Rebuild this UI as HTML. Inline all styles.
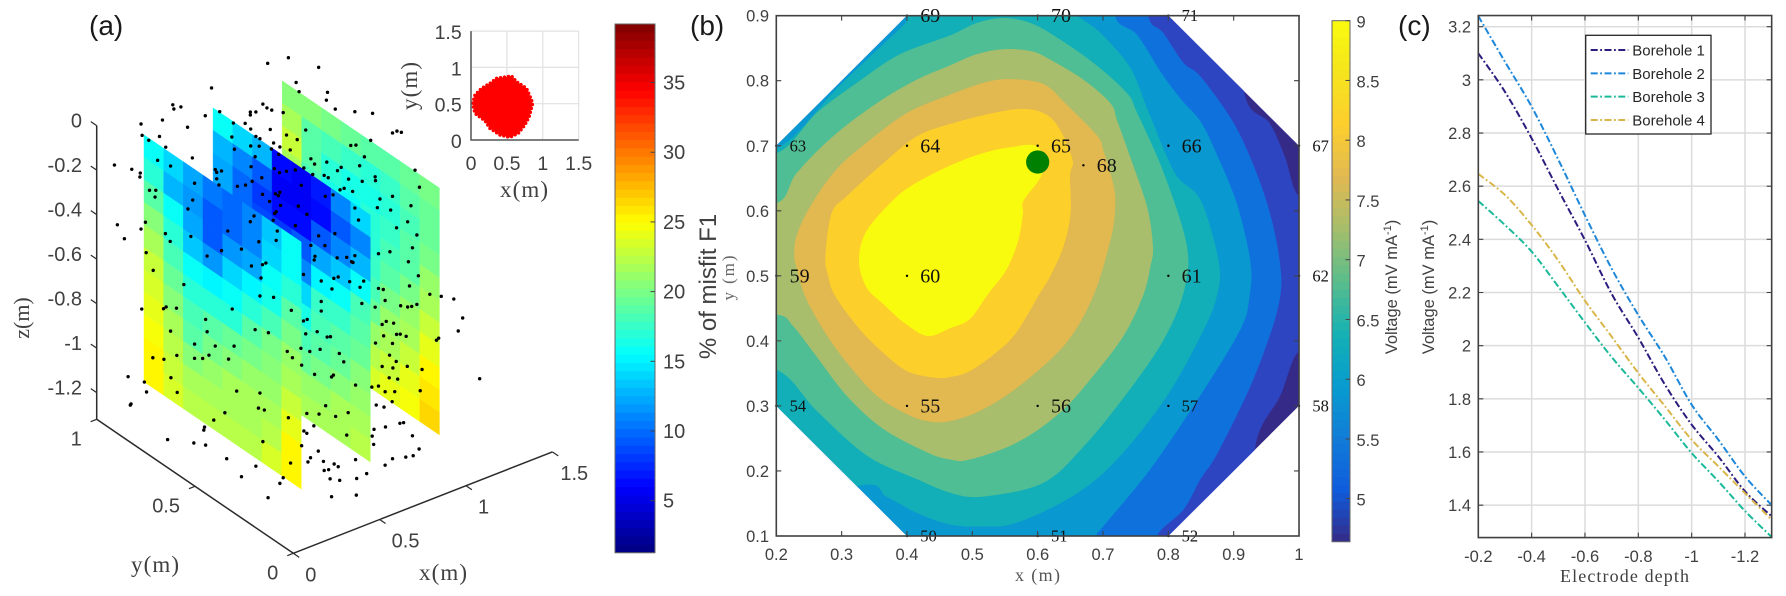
<!DOCTYPE html>
<html lang="en">
<head>
<meta charset="utf-8">
<title>Misfit slices, voltage contour and borehole voltage curves</title>
<style>
  html, body { margin: 0; padding: 0; background: #fff; }
  body { width: 1786px; height: 596px; overflow: hidden; }
  svg { display: block; filter: blur(0.35px); }
  text { font-family: "Liberation Sans", sans-serif; fill: #404040; }
  .serif { font-family: "Liberation Serif", serif; }
</style>
</head>
<body>
<svg id="fig" xmlns="http://www.w3.org/2000/svg" width="1786" height="596" viewBox="0 0 1786 596">
  <rect x="0" y="0" width="1786" height="596" fill="#fff"/>
  <g id="panelA"></g>
  <g id="inset"></g>
  <g id="cbarA"></g>
  <g id="panelB"></g>
  <g id="cbarB"></g>
  <g id="panelC"></g>

  <text x="89" y="35" font-size="28" style="fill:#1a1a1a">(a)</text>
  <text x="690" y="35" font-size="28" style="fill:#1a1a1a">(b)</text>
  <text x="1398" y="35" font-size="28" style="fill:#1a1a1a">(c)</text>

  <text class="serif" transform="translate(29,318) rotate(-90)" text-anchor="middle" font-size="22">z(m)</text>
  <text class="serif" x="155" y="572" text-anchor="middle" font-size="23" textLength="48">y(m)</text>
  <text class="serif" x="443" y="580" text-anchor="middle" font-size="23" textLength="48">x(m)</text>
  <text class="serif" x="524" y="197" text-anchor="middle" font-size="23" textLength="48">x(m)</text>
  <text class="serif" transform="translate(417,86) rotate(-90)" text-anchor="middle" font-size="23" textLength="48">y(m)</text>
  <text transform="translate(716,286.5) rotate(-90)" text-anchor="middle" font-size="24">% of misfit F1</text>
  <text class="serif" transform="translate(734,278) rotate(-90)" text-anchor="middle" font-size="17" textLength="45" style="fill:#666">y (m)</text>
  <text class="serif" x="1037.5" y="581" text-anchor="middle" font-size="18" textLength="45" style="fill:#555">x (m)</text>
  <text transform="translate(1397,287) rotate(-90)" text-anchor="middle" font-size="16.5">Voltage (mV mA<tspan baseline-shift="super" font-size="11">-1</tspan>)</text>
  <text transform="translate(1434,287) rotate(-90)" text-anchor="middle" font-size="16.5">Voltage (mV mA<tspan baseline-shift="super" font-size="11">-1</tspan>)</text>
  <text class="serif" x="1624.5" y="582" text-anchor="middle" font-size="18" textLength="129">Electrode depth</text>
</svg>
<script>
/* ---------- Panel (a): slice values, % misfit, one array per column, top row first ---------- */
const slice1Values = [
  [15.5,17,19,20.5,22,23,23.5,24,24.5,25,25.5],
  [14,13,15.5,17,18,19.5,20.5,21.5,22.5,23,23.5],
  [12,11.5,12,13.5,15.5,17,18,19,20.5,21.5,22.5],
  [10.5,9.5,9.5,11.5,15,17,18.5,20,21,22,22.5],
  [10,10,11.5,14,15.5,17,19.5,20.5,21.5,22,22.5],
  [11,11,12,15,17,18.5,20,21,21.5,22,22.5],
  [13.5,14,15.5,16.5,18,20,20.5,21,22,22.5,23.5],
  [15.5,16,17,18.5,20,21,22,23,24,25,25.5]
];
const slice2Values = [
  [15.5,13,12,12,13,15,17,18.5,20,21,22],
  [14,11,10,10,12,14,16,18,19.5,21,22],
  [13,9,8,8.5,10,13,15.5,17.5,19,20.5,21.5],
  [6.5,6,6.5,8,10.5,13,15.5,17.5,19,20.5,21.5],
  [6,5.5,6.5,9,11,14,16.5,18,19.5,21,22],
  [7,6.5,9.5,12,15,17.5,18,19,20,21,21.5],
  [11,9,11,13.5,15.5,17.5,19,19.5,20.5,21.5,22],
  [14,11,13,15.5,18,19,19.5,20.5,21,21.5,22.5]
];
const slice3Values = [
  [20.5,22,23,22,21,20,19,19,20,21,22],
  [20.5,18.5,18.5,18,17.5,17,17,18,19.5,21,22],
  [20,18,17,16.5,16,16,16.5,18,19.5,21,22.5],
  [19.5,17.5,16.5,16,16,16,16.5,18,20,21.5,23],
  [18.5,17,16.5,17,17,17.5,18,19.5,21,22.5,23.5],
  [19,17.5,17,17.5,18,19,20,21,22,23,24],
  [19.5,18.5,18,18.5,19,20,21,22,23,24,24.5],
  [20,19.5,19.5,20,21,22,23,24,25,26,26.5]
];
const sliceX = [0.16, 0.56, 0.96];
const sliceYStart = [0.9];
const sliceCellY = [0.1];
const sliceZRange = [-0.03, -1.14];

/* Scatter read from a 2D projection: depth is not recoverable, so points sit on the x + y = 1 view plane. */
const scatterX = [.519,.463,.601,.540,.311,.548,.625,.622,.206,.209,.228,.450,.461,.474,.646,.699,.747,.505,.416,.416,.431,.333,.294,.120,.178,.370,.402,.246,.417,.470,.566,.801,.813,.825,.123,.170,.514,.431,.442,.366,.543,.742,.141,.479,.688,.702,.417,.440,.496,.473,.187,.373,.524,.493,.725,.429,.259,.580,.623,.165,.590,.048,.712,.200,.418,.662,.561,.481,.095,.321,.338,.325,.118,.495,.514,.538,.862,.652,.616,.627,.585,.447,.117,.754,.682,.325,.755,.421,.719,.265,.554,.381,.403,.331,.874,.670,.659,.143,.160,.693,.496,.484,.449,.619,.640,.801,.158,.492,.767,.260,.468,.247,.498,.546,.851,.699,.760,.796,.486,.482,.569,.426,.709,.478,.132,.416,.842,.056,.120,.538,.812,.355,.489,.867,.601,.075,.645,.186,.199,.486,.439,.255,.855,.618,.580,.392,.794,.338,.134,.763,.299,.651,.677,.699,.591,.589,.844,.690,.694,.458,.449,.419,.153,.560,.871,.654,.642,.445,.723,.608,.685,.847,.236,.713,.763,.637,.776,
.902,.933,.442,.479,.967,.781,.608,.823,.842,.853,.867,.718,.754,.216,.188,.181,.122,.367,.527,.608,.991,.295,.570,.560,.784,.773,.804,.429,.200,.299,.465,.566,.597,.979,.822,.812,.777,.838,.624,.633,.926,.920,.755,.801,.265,.321,.372,.553,.605,.577,.516,.657,.793,.304,.217,.152,.265,.287,.182,.357,.530,.811,.669,.555,.773,.841,.802,.881,.590,.641,.636,.201,.792,.815,.085,1.037,.701,.745,.763,.876,.781,.807,.379,.442,.135,.218,.800,.757,.778,.620,.438,.454,.347,.317,.569,.602,.681,.647,.519,.751,.782,.821,.831,.292,.290,.588,.561,.569,.677,.746,.855,.192,.263,.295,.450,.555,.750,.600,.873,.801,.837,.857,.352,.579,.572,.701,.614,.525,.781,.643,.654,.616,.628,.731,.431,.632,.658,.704,.505,.392,.496,.464,.636,.703,.091,.093,.129];
const scatterZ = [.460,.418,.441,.355,.262,.316,.336,.300,.155,.137,.152,.231,.217,.211,.267,.271,.278,.209,.185,.172,.190,.162,.132,.043,.078,.122,.130,.066,.109,.123,.149,.206,.218,.216,-.007,.002,.111,.080,.073,.058,.099,.155,-.024,.065,.116,.122,.033,.039,.052,.036,-.041,.005,.047,.018,.076,-.012,-.068,.024,.022,-.107,.003,-.163,.032,-.122,-.060,.010,-.023,-.050,-.168,-.102,-.103,-.113,-.178,-.064,-.052,-.039,.057,-.008,-.040,-.047,-.045,-.101,-.196,-.005,-.037,-.142,-.022,-.125,-.036,-.180,-.103,-.159,-.147,-.168,-.016,-.082,-.092,-.248,-.243,-.089,-.152,-.162,-.175,-.133,-.120,-.079,-.274,-.168,-.101,-.257,-.201,-.301,-.210,-.199,-.106,-.162,-.142,-.142,-.242,-.251,-.229,-.279,-.213,-.283,-.395,-.308,-.181,-.429,-.429,-.289,-.217,-.368,-.328,-.233,-.316,-.486,-.293,-.430,-.461,-.371,-.391,-.422,-.294,-.355,-.365,-.438,-.330,-.461,-.531,-.348,-.497,-.400,-.390,-.376,-.411,-.428,-.360,-.406,-.408,-.481,-.491,-.506,-.605,-.502,-.415,-.485,-.495,-.552,-.483,-.517,-.497,-.468,-.644,-.514,-.504,-.544,-.505,
-.489,-.489,-.634,-.629,-.491,-.553,-.609,-.564,-.564,-.558,-.545,-.585,-.591,-.756,-.759,-.769,-.788,-.715,-.673,-.652,-.569,-.783,-.701,-.711,-.646,-.663,-.648,-.789,-.864,-.837,-.792,-.767,-.748,-.631,-.692,-.696,-.713,-.697,-.764,-.760,-.679,-.690,-.752,-.740,-.903,-.895,-.880,-.836,-.825,-.843,-.861,-.828,-.795,-.941,-.968,-.998,-.967,-.961,-.996,-.943,-.885,-.818,-.862,-.911,-.852,-.831,-.850,-.833,-.942,-.930,-.940,-1.073,-.897,-.896,-1.103,-.828,-.957,-.953,-.943,-.930,-.963,-.955,-1.080,-1.070,-1.157,-1.134,-1.002,-1.030,-1.033,-1.074,-1.139,-1.143,-1.187,-1.229,-1.124,-1.117,-1.087,-1.114,-1.158,-1.141,-1.121,-1.093,-1.087,-1.268,-1.282,-1.174,-1.205,-1.213,-1.189,-1.173,-1.139,-1.354,-1.348,-1.348,-1.286,-1.273,-1.209,-1.284,-1.193,-1.258,-1.240,-1.228,-1.392,-1.320,-1.341,-1.292,-1.326,-1.360,-1.293,-1.329,-1.338,-1.366,-1.359,-1.346,-1.402,-1.399,-1.398,-1.376,-1.432,-1.461,-1.460,-1.534,-1.478,-1.451,-1.229,-1.223,-1.114];

const zTicks = [0,-0.2,-0.4,-0.6,-0.8,-1,-1.2];
const zTickLabels = ['0','-0.2','-0.4','-0.6','-0.8','-1','-1.2'];
const xTicks3d = [0,0.5,1,1.5];
const xTickLabels3d = ['0','0.5','1','1.5'];
const yTicks3d = [0,0.5,1];
const yTickLabels3d = ['0','0.5','1'];

/* Inset: outline of the red source-location cloud (x, y in metres) */
const blobX = [.357,.565,.634,.773,.843,.857,.81,.75,.657,.542,.403,.264,.194,.056,.023,.056,.148,.264];
const blobY = [.849,.881,.803,.711,.551,.496,.321,.207,.092,.037,.069,.161,.266,.367,.505,.62,.711,.78];
const insetTicks = [0,0.5,1,1.5];
const insetTickLabels = ['0','0.5','1','1.5'];

/* Colorbars */
const misfitRange = [1.27, 39.2];
const misfitTicks = [5,10,15,20,25,30,35];
const voltageRange = [4.64, 9];
const voltageTicks = [5,5.5,6,6.5,7,7.5,8,8.5,9];
const voltageTickLabels = ['5','5.5','6','6.5','7','7.5','8','8.5','9'];

/* ---------- Panel (b): contour boundaries in data coordinates, outermost first ---------- */
const domainOutline = [[.2,.7],[.4,.9],[.8,.9],[1,.7],[1,.3],[.8,.1],[.4,.1],[.2,.3]];
const contour1 = [[.1,1],[.915,1],[.915,.786],[.955,.734],[.978,.683],[1,.622],[1.05,.622],[1.05,.385],[1,.385],[.971,.316],[.932,.234],[.932,.05],[.1,.05]];
const contour2 = [[.1,1],[.769,1],[.769,.9],[.792,.873],[.823,.827],[.849,.806],[.9,.734],[.935,.657],[.958,.585],[.971,.514],[.971,.47],[.958,.418],[.925,.33],[.874,.226],[.849,.188],[.823,.141],[.782,.1],[.782,.05],[.1,.05]];
const contour3 = [[.1,1],[.718,1],[.718,.9],[.752,.87],[.79,.81],[.82,.77],[.849,.737],[.874,.686],[.905,.609],[.925,.522],[.924,.47],[.91,.418],[.849,.317],[.772,.203],[.7,.115],[.69,.1],[.69,.05],[.1,.05]];
const contour4 = [[.1,.7],[.2,.695],[.3,.795],[.395,.885],[.42,.91],[.66,.91],[.66,.9],[.695,.874],[.741,.82],[.77,.75],[.81,.657],[.849,.616],[.877,.52],[.874,.47],[.854,.418],[.798,.316],[.721,.218],[.654,.162],[.568,.121],[.516,.115],[.466,.118],[.415,.136],[.37,.16],[.323,.177],[.1,.1]];
const contour5 = [[.1,.688],[.2,.688],[.262,.75],[.323,.796],[.389,.84],[.466,.869],[.506,.888],[.547,.896],[.59,.888],[.634,.863],[.685,.827],[.736,.781],[.752,.75],[.793,.657],[.828,.545],[.823,.475],[.793,.403],[.741,.326],[.67,.238],[.608,.182],[.516,.161],[.466,.167],[.415,.188],[.339,.224],[.262,.293],[.2,.356],[.1,.356]];
const contour6 = [[.1,.611],[.2,.611],[.231,.657],[.287,.714],[.354,.765],[.415,.801],[.466,.823],[.506,.84],[.547,.848],[.59,.845],[.619,.832],[.67,.801],[.711,.765],[.721,.739],[.741,.683],[.767,.606],[.776,.545],[.772,.514],[.761,.47],[.731,.408],[.685,.347],[.634,.29],[.568,.244],[.496,.218],[.466,.218],[.431,.229],[.364,.265],[.308,.316],[.257,.383],[.226,.423],[.2,.441],[.1,.441]];
const contour7 = [[.228,.529],[.231,.56],[.252,.606],[.292,.663],[.338,.704],[.4,.75],[.466,.778],[.516,.796],[.552,.802],[.598,.798],[.619,.788],[.639,.768],[.69,.716],[.7,.693],[.716,.637],[.718,.601],[.711,.555],[.685,.47],[.644,.398],[.578,.336],[.516,.295],[.466,.277],[.431,.277],[.4,.288],[.354,.316],[.308,.367],[.272,.418],[.244,.47],[.231,.514]];
const contour8 = [[.2755,.529],[.285,.596],[.308,.622],[.364,.673],[.415,.714],[.466,.733],[.542,.752],[.583,.756],[.614,.747],[.634,.724],[.653,.678],[.649,.655],[.65,.596],[.639,.545],[.619,.5],[.601,.47],[.567,.413],[.537,.383],[.496,.354],[.466,.345],[.441,.344],[.4,.354],[.364,.382],[.328,.418],[.29,.47],[.28,.5]];
const contour9 = [[.327,.524],[.338,.568],[.379,.616],[.41,.64],[.466,.669],[.516,.688],[.557,.697],[.6,.698],[.606,.657],[.578,.616],[.577,.596],[.57,.555],[.552,.51],[.522,.47],[.496,.434],[.466,.42],[.431,.408],[.395,.429],[.364,.457],[.338,.483]];
const contourLevels = [contour1,contour2,contour3,contour4,contour5,contour6,contour7,contour8,contour9];

const electrodeIds = [50,51,52,54,55,56,57,58,59,60,61,62,63,64,65,66,67,68,69,70,71];
const electrodeX = [.4,.6,.8,.2,.4,.6,.8,1,.2,.4,.8,1,.2,.4,.6,.8,1,.67,.4,.6,.8];
const electrodeY = [.1,.1,.1,.3,.3,.3,.3,.3,.5,.5,.5,.5,.7,.7,.7,.7,.7,.67,.9,.9,.9];
const sourceLocation = [0.6, 0.675];
const contourXTicks = [.2,.3,.4,.5,.6,.7,.8,.9,1];
const contourXLabels = ['0.2','0.3','0.4','0.5','0.6','0.7','0.8','0.9','1'];
const contourYTicks = [.1,.2,.3,.4,.5,.6,.7,.8,.9];
const contourYLabels = ['0.1','0.2','0.3','0.4','0.5','0.6','0.7','0.8','0.9'];

/* ---------- Panel (c) ---------- */
const depths = [-.2,-.3,-.4,-.5,-.6,-.7,-.8,-.9,-1,-1.1,-1.2,-1.3];
const borehole1 = [3.1,2.955,2.78,2.586,2.397,2.195,2.03,1.853,1.703,1.583,1.452,1.358];
const borehole2 = [3.24,3.068,2.899,2.70,2.49,2.29,2.115,1.957,1.778,1.646,1.508,1.40];
const borehole3 = [2.544,2.454,2.354,2.222,2.087,1.957,1.841,1.721,1.596,1.49,1.378,1.28];
const borehole4 = [2.646,2.567,2.454,2.32,2.169,2.034,1.897,1.772,1.646,1.546,1.445,1.345];
const seriesNames = ['Borehole 1','Borehole 2','Borehole 3','Borehole 4'];
const lineXTicks = [-.2,-.4,-.6,-.8,-1,-1.2];
const lineXLabels = ['-0.2','-0.4','-0.6','-0.8','-1','-1.2'];
const lineYTicks = [1.4,1.6,1.8,2,2.2,2.4,2.6,2.8,3,3.2];
const lineYLabels = ['1.4','1.6','1.8','2','2.2','2.4','2.6','2.8','3','3.2'];

/* ---------- helpers ---------- */
const NS = 'http://www.w3.org/2000/svg';
function mk(tag, attrs, parent, content) {
  const n = document.createElementNS(NS, tag);
  for (const k in attrs) n.setAttribute(k, attrs[k]);
  if (content !== undefined) n.textContent = content;
  parent.appendChild(n);
  return n;
}
const clamp01 = v => Math.max(0, Math.min(1, v));
function jet(t) {
  const q = (Math.min(63, Math.floor(clamp01(t) * 64)) + .5) / 64;
  const c = o => Math.round(255 * clamp01(1.5 - Math.abs(4 * q - o)));
  return `rgb(${c(3)},${c(2)},${c(1)})`;
}
const parulaStops = [[53,42,135],[15,92,221],[18,125,216],[7,156,207],[21,177,180],[89,189,140],[165,190,107],[225,185,82],[252,206,46],[245,228,29],[249,251,14]];
function parula(t) {
  const p = clamp01(t) * 10, i = Math.min(9, Math.floor(p)), f = p - i;
  const a = parulaStops[i], b = parulaStops[i + 1];
  return `rgb(${[0,1,2].map(k => Math.round(a[k] + (b[k] - a[k]) * f)).join(',')})`;
}
const pts = list => list.map(p => p[0].toFixed(2) + ',' + p[1].toFixed(2)).join(' ');
/* Catmull-Rom spline through a list of pixel points */
function smoothPath(p, closed) {
  const n = p.length;
  const at = i => closed ? p[(i + n) % n] : p[Math.max(0, Math.min(n - 1, i))];
  let d = `M${p[0][0].toFixed(2)} ${p[0][1].toFixed(2)}`;
  const last = closed ? n : n - 1;
  for (let i = 0; i < last; i++) {
    const p0 = at(i - 1), p1 = at(i), p2 = at(i + 1), p3 = at(i + 2);
    const c1 = [p1[0] + (p2[0] - p0[0]) / 6, p1[1] + (p2[1] - p0[1]) / 6];
    const c2 = [p2[0] - (p3[0] - p1[0]) / 6, p2[1] - (p3[1] - p1[1]) / 6];
    d += `C${c1[0].toFixed(2)} ${c1[1].toFixed(2)} ${c2[0].toFixed(2)} ${c2[1].toFixed(2)} ${p2[0].toFixed(2)} ${p2[1].toFixed(2)}`;
  }
  return d + (closed ? 'Z' : '');
}
const AXIS = '#404040';

/* ---------- Panel (a) 3D axes ---------- */
const pA = document.getElementById('panelA');
const Z0 = -1.32;
function project(x, y, z) {
  return [293.3 + 172.7 * x - 196.6 * y, 553.3 - 67.6 * x - 134 * y - 222.5 * (z - Z0)];
}
function misfitT(v) { return (v - misfitRange[0]) / (misfitRange[1] - misfitRange[0]); }

[[slice3Values, 2], [slice2Values, 1], [slice1Values, 0]].forEach(([vals, idx]) => {
  const x = sliceX[idx];
  const rows = vals[0].length;
  const dz = (sliceZRange[0] - sliceZRange[1]) / rows;
  vals.forEach((col, c) => {
    col.forEach((v, r) => {
      const y0 = sliceYStart[0] - c * sliceCellY[0], y1 = y0 - sliceCellY[0];
      const z0 = sliceZRange[0] - r * dz, z1 = z0 - dz;
      const fill = jet(misfitT(v));
      const cell = mk('polygon', {
        points: pts([project(x, y0, z0), project(x, y1, z0), project(x, y1, z1), project(x, y0, z1)]),
        fill: fill, stroke: fill, 'stroke-width': 0.4
      }, pA);
      
      
    });
  });
});

scatterX.forEach((sx, i) => {
  const p = project(sx, 1 - sx, scatterZ[i]);
  const dot = mk('circle', { cx: p[0].toFixed(2), cy: p[1].toFixed(2), r: 1.7, fill: '#000' }, pA);
  
  
});

function line3d(a, b, w) {
  return mk('line', { x1: a[0], y1: a[1], x2: b[0], y2: b[1], stroke: '#2b2b2b', 'stroke-width': w }, pA);
}
const zAxisLine = line3d(project(0, 1, Z0), project(0, 1, 0), 1.5);


const yAxisLine = line3d(project(0, 0, Z0), project(0, 1, Z0), 1.5);


const xAxisLine = line3d(project(0, 0, Z0), project(1.5, 0, Z0), 1.5);



zTicks.forEach((z, i) => {
  const p = project(0, 1, z);
  const t = line3d(p, project(0, 1.03, z), 1.2);
  
  
  const l = mk('text', { x: 82, y: p[1] + 2, 'text-anchor': 'end', 'font-size': 20 }, pA, zTickLabels[i]);
  
  
});
xTicks3d.forEach((v, i) => {
  const p = project(v, 0, Z0);
  const t = line3d(p, project(v, -0.03, Z0), 1.2);
  
  
  const l = mk('text', { x: p[0] + (v === 1.5 ? 8 : 12), y: p[1] + 28, 'font-size': 20 }, pA, xTickLabels3d[i]);
  
  
});
yTicks3d.forEach((v, i) => {
  const p = project(0, v, Z0);
  const t = line3d(p, project(-0.035, v, Z0), 1.2);
  
  
  const l = mk('text', { x: p[0] - 15, y: p[1] + 26, 'text-anchor': 'end', 'font-size': 20 }, pA, yTickLabels3d[i]);
  
  
});

/* ---------- Inset ---------- */
const gI = document.getElementById('inset');
const xI = v => 471 + v * 71.8;
const yI = v => 140 - v * 72.6;
insetTicks.forEach((v, i) => {
  const gx = mk('line', { x1: xI(v), y1: yI(0), x2: xI(v), y2: yI(1.5), stroke: '#e2e2e2', 'stroke-width': 1.2 }, gI);
  
  
  const gy = mk('line', { x1: xI(0), y1: yI(v), x2: xI(1.5), y2: yI(v), stroke: '#e2e2e2', 'stroke-width': 1.2 }, gI);
  
  
  const lx = mk('text', { x: xI(v), y: 170, 'text-anchor': 'middle', 'font-size': 19.5 }, gI, insetTickLabels[i]);
  
  
  const ly = mk('text', { x: 461.7, y: yI(v) + 8, 'text-anchor': 'end', 'font-size': 19.5 }, gI, insetTickLabels[i]);
  
  
});
const blobPts = blobX.map((x, i) => [xI(x), yI(blobY[i])]);
const blob = mk('polygon', { points: pts(blobPts), fill: '#ff0000', stroke: '#ff0000', 'stroke-width': 3.5, 'stroke-linejoin': 'round', 'stroke-linecap': 'round', 'stroke-dasharray': '0 4' }, gI);


const insetAxes = mk('path', { d: `M${xI(0)} ${yI(1.5)}V${yI(0)}H${xI(1.5)}`, fill: 'none', stroke: '#555', 'stroke-width': 1.5 }, gI);



/* ---------- Colorbars ---------- */
function colorbar(gId, left, right, top, bottom, range, cmap, ticks, labels, labelX, fs) {
  const g = document.getElementById(gId);
  const h = (bottom - top) / 64;
  for (let i = 0; i < 64; i++) {
    const r = mk('rect', { x: left, y: (bottom - (i + 1) * h).toFixed(2), width: right - left, height: (h + .4).toFixed(2), fill: cmap((i + .5) / 64) }, g);
    
    
  }
  const frame = mk('rect', { x: left, y: top, width: right - left, height: bottom - top, fill: 'none', stroke: '#666', 'stroke-width': 1 }, g);
  
  
  const yOf = v => bottom - (v - range[0]) / (range[1] - range[0]) * (bottom - top);
  ticks.forEach((v, i) => {
    const y = yOf(v);
    const t = mk('line', { x1: right - 4.5, y1: y, x2: right, y2: y, stroke: '#444', 'stroke-width': 1 }, g);
    
    
    const l = mk('text', { x: labelX, y: y + 7, 'font-size': fs }, g, labels[i]);
    
    
  });
}
colorbar('cbarA', 615, 655, 24, 552.7, misfitRange, jet, misfitTicks, misfitTicks.map(String), 663, 20);
colorbar('cbarB', 1332, 1350, 20.7, 541.7, voltageRange, parula, voltageTicks, voltageTickLabels, 1356.5, 16.5);

/* ---------- Panel (b) ---------- */
const gB = document.getElementById('panelB');
const xB = v => 776.3 + (v - .2) * 653.4;
const yB = v => 536 - (v - .1) * 650.4;
const toB = p => [xB(p[0]), yB(p[1])];
const bandColors = ['#352A87','#2E45C2','#0F72DC','#0A98D0','#12AFB8','#50BE94','#A8BE6C','#E2B850','#FDCF2A','#F9FB0E'];
const defs = mk('defs', {}, gB);
const clip = mk('clipPath', { id: 'octagonClip' }, defs);
mk('polygon', { points: pts(domainOutline.map(toB)) }, clip);
const contours = mk('g', { 'clip-path': 'url(#octagonClip)' }, gB);


const baseBand = mk('polygon', { points: pts(domainOutline.map(toB)), fill: bandColors[0] }, contours);


contourLevels.forEach((c, i) => {
  const band = mk('path', { d: smoothPath(c.map(toB), true), fill: bandColors[i + 1], stroke: bandColors[i + 1], 'stroke-width': .6, 'stroke-linejoin': 'round' }, contours);
  
  
});
const srcDot = mk('circle', { cx: xB(sourceLocation[0]), cy: yB(sourceLocation[1]), r: 11.6, fill: '#008000' }, gB);



const smallIds = [50,51,52,54,57,58,62,63,67,71];
electrodeIds.forEach((id, i) => {
  const ex = xB(electrodeX[i]), ey = yB(electrodeY[i]);
  const dot = mk('circle', { cx: ex, cy: ey, r: 1.2, fill: '#000' }, gB);
  
  
  const small = smallIds.includes(id);
  const l = mk('text', { class: 'serif', x: ex + 13.3, y: ey + (small ? 5.5 : 6.5), 'font-size': small ? 16.5 : 20, style: 'fill:#111' }, gB, String(id));
  
  
});

const frameB = mk('rect', { x: xB(.2), y: yB(.9), width: xB(1) - xB(.2), height: yB(.1) - yB(.9), fill: 'none', stroke: AXIS, 'stroke-width': 1.6 }, gB);


contourXTicks.forEach((v, i) => {
  const x = xB(v);
  const t = mk('path', { d: `M${x} ${yB(.1)}v-5M${x} ${yB(.9)}v5`, stroke: AXIS, 'stroke-width': 1.1, fill: 'none' }, gB);
  
  
  const l = mk('text', { x: x, y: 560, 'text-anchor': 'middle', 'font-size': 16.5 }, gB, contourXLabels[i]);
  
  
});
contourYTicks.forEach((v, i) => {
  const y = yB(v);
  const t = mk('path', { d: `M${xB(.2)} ${y}h5M${xB(1)} ${y}h-5`, stroke: AXIS, 'stroke-width': 1.1, fill: 'none' }, gB);
  
  
  const l = mk('text', { x: 769, y: y + 6, 'text-anchor': 'end', 'font-size': 16.5 }, gB, contourYLabels[i]);
  
  
});

/* ---------- Panel (c) ---------- */
const gC = document.getElementById('panelC');
const xC = v => 1478.3 + (-.2 - v) * 266.7;
const yC = v => 26.7 + (3.2 - v) * 265.8;
const xCMin = xC(-.2), xCMax = xC(-1.3), yCTop = yC(3.242), yCBot = yC(1.278);
lineXTicks.forEach((v, i) => {
  const x = xC(v);
  const g = mk('line', { x1: x, y1: yCTop, x2: x, y2: yCBot, stroke: '#dcdcdc', 'stroke-width': 1.5 }, gC);
  
  
  const t = mk('path', { d: `M${x} ${yCBot}v-5M${x} ${yCTop}v5`, stroke: AXIS, 'stroke-width': 1.1, fill: 'none' }, gC);
  
  
  const l = mk('text', { x: x, y: 562, 'text-anchor': 'middle', 'font-size': 16.5 }, gC, lineXLabels[i]);
  
  
});
lineYTicks.forEach((v, i) => {
  const y = yC(v);
  const g = mk('line', { x1: xCMin, y1: y, x2: xCMax, y2: y, stroke: '#dcdcdc', 'stroke-width': 1.5 }, gC);
  
  
  const t = mk('path', { d: `M${xCMin} ${y}h5M${xCMax} ${y}h-5`, stroke: AXIS, 'stroke-width': 1.1, fill: 'none' }, gC);
  
  
  const l = mk('text', { x: 1471, y: y + 6, 'text-anchor': 'end', 'font-size': 16.5 }, gC, lineYLabels[i]);
  
  
});
const seriesColors = ['#2A1D7E','#1D87D9','#1AB99A','#D9B64A'];
const dash = '7 2.5 1.8 2.5';
[borehole1, borehole2, borehole3, borehole4].forEach((vals, s) => {
  const line = mk('path', { d: smoothPath(vals.map((v, i) => [xC(depths[i]), yC(v)]), false), fill: 'none', stroke: seriesColors[s], 'stroke-width': 2, 'stroke-dasharray': dash }, gC);
  
  
});
const frameC = mk('rect', { x: xCMin, y: yCTop, width: xCMax - xCMin, height: yCBot - yCTop, fill: 'none', stroke: AXIS, 'stroke-width': 1.6 }, gC);


const legendBox = mk('rect', { x: 1585.7, y: 35.3, width: 125.3, height: 98.7, fill: '#fff', stroke: '#262626', 'stroke-width': 1.3 }, gC);


seriesNames.forEach((name, i) => {
  const y = 50 + i * 23.33;
  const sw = mk('line', { x1: 1590.7, y1: y, x2: 1628.3, y2: y, stroke: seriesColors[i], 'stroke-width': 2, 'stroke-dasharray': dash }, gC);
  
  
  const l = mk('text', { x: 1632.3, y: y + 5.5, 'font-size': 15, style: 'fill:#262626' }, gC, name);
  
  
});
</script>
</body>
</html>
